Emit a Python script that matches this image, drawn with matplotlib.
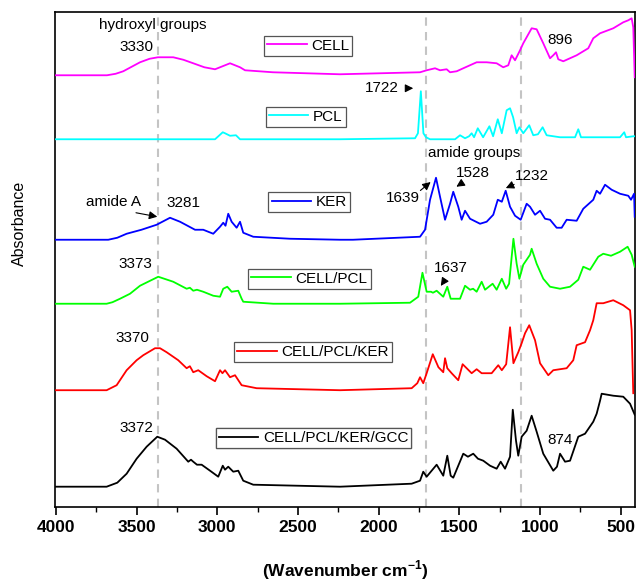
import numpy as np
import matplotlib
matplotlib.use("Agg")
import matplotlib.pyplot as plt

plt.rcParams['font.family'] = ['Liberation Sans', 'DejaVu Sans']
plt.rcParams['mathtext.fontset'] = 'custom'
plt.rcParams['mathtext.rm'] = 'Liberation Sans'
plt.rcParams['mathtext.bf'] = 'Liberation Sans:bold'

# FTIR spectra: (wavenumber cm-1, relative absorbance)
cell = [(4000, 0), (3684, 0), (3630, 0.015), (3583, 0.04), (3479, 0.13), (3420, 0.165),
        (3368, 0.18), (3273, 0.18), (3210, 0.155), (3149, 0.12), (3080, 0.08), (3014, 0.06),
        (2921, 0.12), (2859, 0.08), (2828, 0.05), (2655, 0.03),
        (2239, 0.01), (1743, 0.03), (1702, 0.05), (1650, 0.07), (1619, 0.05), (1578, 0.06),
        (1557, 0.03), (1516, 0.04), (1475, 0.07), (1392, 0.13), (1330, 0.13), (1268, 0.12),
        (1227, 0.08), (1196, 0.10), (1175, 0.20), (1154, 0.15), (1123, 0.25), (1103, 0.32),
        (1051, 0.47), (1020, 0.46), (979, 0.32), (937, 0.17), (917, 0.20), (900, 0.23),
        (886, 0.16), (855, 0.14), (772, 0.20), (700, 0.27), (669, 0.37), (627, 0.42),
        (545, 0.47), (483, 0.53), (452, 0.55), (431, 0.57), (421, 0.48), (412, -0.02)]

pcl = [(4000, 0), (3014, 0), (2966, 0.07), (2952, 0.06), (2921, 0.035), (2884, 0.04),
       (2859, 0), (2239, 0), (1774, 0.01), (1756, 0.06), (1738, 0.48), (1722, 0.06),
       (1706, 0.02), (1681, 0), (1526, 0), (1495, 0.04), (1464, 0.01), (1439, 0.03),
       (1423, 0.06), (1408, 0.02), (1385, 0.11), (1352, 0.02), (1313, 0.13), (1290, 0.03),
       (1261, 0.20), (1236, 0.06), (1206, 0.29), (1185, 0.31), (1166, 0.22), (1144, 0.06),
       (1127, 0.12), (1103, 0.06), (1066, 0.14), (1041, 0.04), (1012, 0.05), (983, 0.12),
       (958, 0.04), (875, 0.02), (782, 0.02), (762, 0.10), (745, 0.02), (607, 0.02),
       (503, 0.02), (477, 0.07), (466, 0.02), (421, 0.03), (412, 0.03)]

ker = [(4000, 0), (3676, 0), (3620, 0.02), (3562, 0.06), (3470, 0.10), (3376, 0.15),
       (3293, 0.22), (3231, 0.18),
       (3138, 0.10), (3087, 0.10), (3025, 0.06), (2983, 0.13), (2963, 0.17), (2949, 0.14),
       (2932, 0.26), (2911, 0.18), (2880, 0.12), (2859, 0.18), (2839, 0.07), (2777, 0.03),
       (2549, 0.01), (2239, 0), (2159, 0), (1743, 0.03), (1712, 0.10), (1681, 0.40),
       (1644, 0.62), (1619, 0.43), (1588, 0.20), (1557, 0.36), (1537, 0.48), (1506, 0.33),
       (1485, 0.20), (1464, 0.29), (1433, 0.21), (1371, 0.16), (1330, 0.18), (1289, 0.25),
       (1261, 0.40), (1236, 0.38), (1212, 0.49), (1185, 0.33), (1154, 0.24), (1119, 0.20),
       (1082, 0.36), (1061, 0.33), (1030, 0.25), (999, 0.29), (968, 0.21), (937, 0.20),
       (896, 0.12), (865, 0.12), (834, 0.20), (772, 0.19), (731, 0.31), (669, 0.40),
       (648, 0.49), (627, 0.46), (596, 0.55), (555, 0.50), (503, 0.46), (452, 0.44),
       (435, 0.40), (416, 0.46), (412, 0.23)]

cell_pcl = [(4000, 0), (3686, 0), (3650, 0.015), (3603, 0.05), (3541, 0.10), (3479, 0.18),
            (3366, 0.27), (3273, 0.22), (3190, 0.15), (3170, 0.16), (3149, 0.13), (3126, 0.14),
            (3087, 0.12), (3025, 0.08), (2983, 0.07), (2963, 0.15), (2938, 0.17), (2911, 0.12),
            (2870, 0.13), (2849, 0.05), (2839, 0.02), (2653, 0), (2239, 0), (1805, 0.01),
            (1754, 0.07), (1728, 0.31), (1702, 0.12), (1675, 0.12), (1663, 0.11), (1640, 0.13),
            (1599, 0.07), (1574, 0.17), (1553, 0.05), (1495, 0.05), (1464, 0.18), (1433, 0.14),
            (1414, 0.15), (1392, 0.12), (1361, 0.22), (1340, 0.14), (1293, 0.20), (1268, 0.14),
            (1236, 0.25), (1209, 0.15), (1191, 0.20), (1164, 0.65), (1144, 0.40), (1127, 0.25),
            (1103, 0.39), (1082, 0.44), (1061, 0.49), (1051, 0.55), (1020, 0.40), (979, 0.25),
            (937, 0.17), (875, 0.15), (813, 0.17), (762, 0.24), (731, 0.37), (689, 0.34),
            (638, 0.47), (607, 0.50), (559, 0.48), (503, 0.52), (456, 0.57), (431, 0.49),
            (412, 0.37)]

cell_pcl_ker = [(4000, 0), (3686, 0), (3624, 0.05), (3562, 0.20), (3500, 0.30), (3459, 0.35),
                (3386, 0.42), (3355, 0.42), (3314, 0.38), (3242, 0.30), (3190, 0.22), (3170, 0.24),
                (3149, 0.18), (3118, 0.20), (3066, 0.14), (3014, 0.09), (2983, 0.20), (2968, 0.17),
                (2952, 0.20), (2921, 0.13), (2890, 0.15), (2849, 0.05), (2756, 0.02), (2239, 0),
                (1795, 0.02), (1760, 0.07), (1743, 0.13), (1723, 0.07), (1702, 0.17), (1664, 0.36),
                (1629, 0.23), (1599, 0.18), (1588, 0.32), (1574, 0.22), (1547, 0.17), (1506, 0.10),
                (1479, 0.26), (1454, 0.22), (1423, 0.17), (1392, 0.21), (1361, 0.17), (1299, 0.17),
                (1258, 0.25), (1236, 0.20), (1209, 0.26), (1185, 0.63), (1164, 0.27), (1134, 0.38),
                (1113, 0.47), (1092, 0.57), (1066, 0.65), (1030, 0.50), (999, 0.27), (948, 0.15),
                (917, 0.20), (834, 0.22), (793, 0.30), (772, 0.45), (720, 0.48), (689, 0.60),
                (669, 0.70), (648, 0.87), (607, 0.87), (545, 0.90), (483, 0.85), (441, 0.80),
                (431, 0.60), (421, -0.03)]

cell_pcl_ker_gcc = [(4000, 0), (3686, 0), (3620, 0.04), (3562, 0.13), (3500, 0.28), (3438, 0.40),
                    (3372, 0.50), (3324, 0.47), (3252, 0.38), (3180, 0.25), (3163, 0.27), (3149, 0.25),
                    (3126, 0.22), (3097, 0.22), (3045, 0.16), (2994, 0.10), (2966, 0.21), (2952, 0.17),
                    (2932, 0.20), (2901, 0.15), (2870, 0.16), (2839, 0.06), (2777, 0.02), (2239, 0),
                    (1795, 0.03), (1743, 0.06), (1723, 0.15), (1702, 0.10), (1640, 0.22), (1599, 0.11),
                    (1574, 0.31), (1553, 0.11), (1537, 0.09), (1475, 0.33), (1446, 0.30), (1413, 0.33),
                    (1384, 0.28), (1351, 0.26), (1309, 0.21), (1268, 0.18), (1243, 0.25), (1216, 0.18),
                    (1185, 0.30), (1168, 0.77), (1148, 0.46), (1134, 0.31), (1113, 0.50), (1082, 0.56),
                    (1051, 0.71), (1020, 0.55), (979, 0.33), (917, 0.16), (894, 0.20), (875, 0.33),
                    (844, 0.25), (813, 0.26), (762, 0.50), (720, 0.53), (669, 0.65), (648, 0.73),
                    (627, 0.86), (617, 0.93), (545, 0.91), (483, 0.90), (441, 0.83), (412, 0.72)]

labels = ["CELL", "PCL", "KER", "CELL/PCL", "CELL/PCL/KER", "CELL/PCL/KER/GCC"]
spectra = [cell, pcl, ker, cell_pcl, cell_pcl_ker, cell_pcl_ker_gcc]
offsets = [4.32, 3.68, 2.675, 2.035, 1.17, 0.205]
colors = ["#ff00ff", "#00ffff", "#0000ff", "#00ff00", "#ff0000", "#000000"]
ref_lines = [3370, 1706, 1115]

fig = plt.figure(figsize=(6.36, 5.85), dpi=100)
ax = fig.add_axes([0.086, 0.133, 0.9125, 0.846])

for wn in ref_lines:
    ax.axvline(wn, color="#c4c4c4", ls=(0, (4, 3)), lw=1.5, zorder=1)

lines = []
for sp, off, c in zip(spectra, offsets, colors):
    arr = np.array(sp)
    ln, = ax.plot(arr[:, 0], arr[:, 1] + off, color=c, lw=1.3, zorder=3)
    lines.append(ln)

ax.set_xlim(4008, 410)
ax.set_ylim(0, 4.95)
ax.set_yticks([])
ax.set_xticks(np.arange(4000, 499, -500))
ax.set_xticks(np.arange(3750, 499, -500), minor=True)
ax.tick_params(axis="x", which="major", length=6, width=1.2, labelsize=12.5, pad=3)
ax.tick_params(axis="x", which="minor", length=3.5, width=1.0)
for lab in ax.get_xticklabels():
    lab.set_fontweight("bold")
for sp in ax.spines.values():
    sp.set_linewidth(1.2)

ax.set_xlabel(r"(Wavenumber cm$^{\mathbf{-1}}$)", fontsize=12.5, fontweight="bold", labelpad=17)
ax.set_ylabel("Absorbance", fontsize=11.5)
ax.yaxis.set_label_coords(-0.047, 0.574)

# legend boxes, one per trace
leg_pos = [(0.4843, 0.9217), (0.4807, 0.8005), (0.4863, 0.6544),
           (0.4866, 0.5234), (0.4921, 0.3979), (0.4929, 0.2508)]
for ln, lab, (cx, cy) in zip(lines, labels, leg_pos):
    leg = ax.legend([ln], [lab], loc="center", bbox_to_anchor=(cx, cy),
                    bbox_transform=fig.transFigure, fancybox=False, framealpha=1,
                    edgecolor="#555555", fontsize=11, handlelength=2.6,
                    handletextpad=0.3, borderpad=0.2, borderaxespad=0)
    leg.get_frame().set_linewidth(0.9)
    ax.add_artist(leg)

# peak annotations
txt = dict(ha="center", va="center", fontsize=11)
ax.text(3398, 4.82, "hydroxyl groups", **txt)
ax.text(3500, 4.60, "3330", **txt)
ax.text(875, 4.67, "896", **txt)
ax.text(1979, 4.19, "1722", **txt)
ax.text(1408, 3.54, "amide groups", **txt)
ax.text(3645, 3.05, "amide A", **txt)
ax.text(3211, 3.04, "3281", **txt)
ax.text(1850, 3.09, "1639", **txt)
ax.text(1413, 3.34, "1528", **txt)
ax.text(1051, 3.31, "1232", **txt)
ax.text(3510, 2.43, "3373", **txt)
ax.text(1553, 2.39, "1637", **txt)
ax.text(3524, 1.69, "3370", **txt)
ax.text(3504, 0.79, "3372", **txt)
ax.text(875, 0.67, "874", **txt)

arrow = dict(arrowstyle="-|>", color="black", lw=0.8, mutation_scale=12)
ax.annotate("", xy=(1768, 4.19), xytext=(1836, 4.19), arrowprops=arrow)
ax.annotate("", xy=(3355, 2.90), xytext=(3521, 2.95), arrowprops=arrow)
ax.annotate("", xy=(1664, 3.27), xytext=(1754, 3.15), arrowprops=arrow)
ax.annotate("", xy=(1532, 3.19), xytext=(1475, 3.25), arrowprops=arrow)
ax.annotate("", xy=(1227, 3.18), xytext=(1144, 3.24), arrowprops=arrow)
ax.annotate("", xy=(1624, 2.19), xytext=(1578, 2.30), arrowprops=arrow)

fig.savefig("out.png", dpi=100)
